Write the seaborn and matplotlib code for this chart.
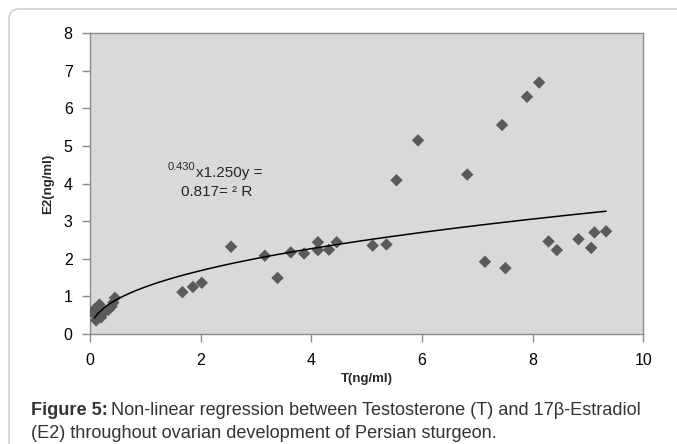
import numpy as np
import pandas as pd
import matplotlib.pyplot as plt
import seaborn as sns
from matplotlib.patches import FancyBboxPatch
from matplotlib.transforms import IdentityTransform, offset_copy

# T and E2 readings (ng/ml)
t_vals = [0.08, 0.17, 0.11, 0.20, 0.27, 0.33, 0.39, 0.42, 0.45, 0.06,
          1.67, 1.86, 2.02, 2.55, 3.16, 3.39, 3.63, 3.87, 4.12, 4.12,
          4.32, 4.46, 5.11, 5.36, 5.54, 5.93, 6.82, 7.14, 7.45, 7.51,
          7.90, 8.12, 8.29, 8.44, 8.83, 9.06, 9.12, 9.33]
e2_vals = [0.65, 0.78, 0.36, 0.44, 0.60, 0.64, 0.73, 0.83, 0.96, 0.55,
           1.11, 1.25, 1.36, 2.32, 2.08, 1.49, 2.17, 2.14, 2.44, 2.23,
           2.24, 2.44, 2.35, 2.38, 4.09, 5.15, 4.24, 1.92, 5.56, 1.75,
           6.31, 6.69, 2.46, 2.23, 2.52, 2.29, 2.70, 2.73]

# power-law fit shown on the chart: y = a * x^b
fit_a = 1.25
fit_b = 0.43
fit_range = (0.08, 9.33)

df = pd.DataFrame({'T': t_vals, 'E2': e2_vals})

sns.set_theme(style='white')
plt.rcParams['font.family'] = ['Liberation Sans Narrow', 'Liberation Sans', 'DejaVu Sans']

fig = plt.figure(figsize=(6.77, 4.44), dpi=100)
ax = fig.add_axes([0.133, 0.248, 0.817, 0.677])
ax.set_facecolor('#d9d9d9')

sns.scatterplot(data=df, x='T', y='E2', marker='D', s=40, color='#5a5a5a',
                edgecolor='none', ax=ax, zorder=3)

xs = np.linspace(fit_range[0], fit_range[1], 300)
sns.lineplot(x=xs, y=fit_a * xs ** fit_b, color='black', lw=1.1, ax=ax, zorder=4)

ax.set_xlim(0, 10)
ax.set_ylim(0, 8)
ax.set_xticks(range(0, 11, 2))
ax.set_yticks(range(0, 9))
for sp in ax.spines.values():
    sp.set_color('#8c8c8c')
    sp.set_linewidth(1)
ax.tick_params(axis='both', which='both', direction='out', length=5.5, width=1,
               color='#8c8c8c', labelsize=11.5, labelcolor='black')
ax.tick_params(axis='x', bottom=True, pad=8)
ax.tick_params(axis='y', left=True, pad=7)
ax.set_xlabel('T(ng/ml)', fontsize=9.5, fontweight='bold', labelpad=4)
ax.set_ylabel('E2(ng/ml)', fontsize=9.5, fontweight='bold', labelpad=7)

# equation text
fig.canvas.draw()
renderer = fig.canvas.get_renderer()
sup = ax.text(1.41, 4.44, '0.430', fontsize=8, ha='left', va='center')
sb = sup.get_window_extent(renderer=renderer)
fig.text(sb.x1 / 677, fig.transFigure.inverted().transform(ax.transData.transform((0, 4.28)))[1],
         'x1.250y =', fontsize=11, ha='left', va='center')
ax.text(1.65, 3.78, '0.817= \u00b2 R', fontsize=11, ha='left', va='center')

# rounded frame around the figure
frame = FancyBboxPatch((9, -30), 720, 465, boxstyle='round,pad=0,rounding_size=10',
                       transform=IdentityTransform(), fill=False,
                       edgecolor='#c8c8c8', lw=1)
fig.add_artist(frame)

# caption
cap_y1 = 1 - 410 / 444
cap_y2 = 1 - 433 / 444
bold = fig.text(31 / 677, cap_y1, 'Figure 5:', fontsize=13.1, fontweight='bold',
                color='#333333', va='center')
bb = bold.get_window_extent(renderer=renderer)
fig.text(bb.x1 / 677 + 0.005, cap_y1,
         'Non-linear regression between Testosterone (T) and 17\u03b2-Estradiol',
         fontsize=13.1, color='#333333', va='center')
fig.text(31 / 677, cap_y2,
         '(E2) throughout ovarian development of Persian sturgeon.',
         fontsize=13.1, color='#333333', va='center')

plt.savefig('out.png', dpi=100)
